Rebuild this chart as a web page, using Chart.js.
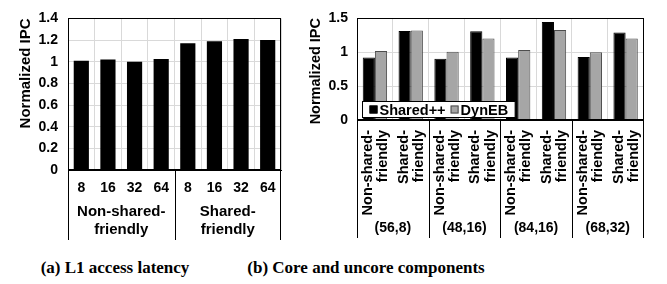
<!DOCTYPE html>
<html>
<head>
<meta charset="utf-8">
<script src="https://cdn.jsdelivr.net/npm/chart.js@4.4.1/dist/chart.umd.min.js"></script>
<style>
  body { margin: 0; background: #fff; width: 667px; height: 284px; position: relative; overflow: hidden; }
  .wrap { position: absolute; top: 0; height: 245px; }
  #wrapA { left: 0; width: 290px; }
  #wrapB { left: 290px; width: 377px; }
  .cap { position: absolute; top: 258px; line-height: 20px; font: bold 17px "Liberation Serif", serif; color: #000; white-space: nowrap; transform: translateX(-50%); }
</style>
</head>
<body>
<div class="wrap" id="wrapA"><canvas id="chartA"></canvas></div>
<div class="wrap" id="wrapB"><canvas id="chartB"></canvas></div>
<div class="cap" style="left:115px">(a) L1 access latency</div>
<div class="cap" style="left:366px">(b) Core and uncore components</div>
<script>
// ---- (a) L1 access latency ----
const latencies = ['8', '16', '32', '64', '8', '16', '32', '64'];
const latencyGroups = [['Non-shared-', 'friendly'], ['Shared-', 'friendly']];
const latencyIPC = [1.01, 1.02, 1.0, 1.025, 1.17, 1.19, 1.21, 1.2];

// ---- (b) Core and uncore components ----
const workloads = [
  ['Non-shared-', 'friendly'], ['Shared-', 'friendly'],
  ['Non-shared-', 'friendly'], ['Shared-', 'friendly'],
  ['Non-shared-', 'friendly'], ['Shared-', 'friendly'],
  ['Non-shared-', 'friendly'], ['Shared-', 'friendly']
];
const configs = [['(56,8)'], ['(48,16)'], ['(84,16)'], ['(68,32)']];
const sharedPP = [0.92, 1.31, 0.9, 1.305, 0.92, 1.44, 0.925, 1.285];
const dynEB = [1.015, 1.315, 1.005, 1.2, 1.03, 1.325, 0.995, 1.2];

const FONT = 'Liberation Sans, Arial, sans-serif';
const GRID = '#d9d9d9';

const fmt = v => String(+(+v).toFixed(2));

/** 画外框、分组标签和分隔线（以及图内图例） */
const groupPlugin = {
  id: 'groups',
  afterDraw(chart, args, opts) {
    const { ctx, chartArea: a } = chart;
    const x = chart.scales.x;
    ctx.save();
    ctx.strokeStyle = '#000';
    ctx.lineWidth = 1;
    ctx.strokeRect(Math.round(a.left) + 0.5, Math.round(a.top) + 0.5,
      Math.round(a.right - a.left) - 1, Math.round(a.bottom - a.top) - 1);

    const n = opts.labels.length;
    const per = chart.data.labels.length / n;
    const half = (x.getPixelForValue(1) - x.getPixelForValue(0)) / 2;
    ctx.beginPath();
    for (let g = 0; g <= n; g++) {
      let px = g < n ? x.getPixelForValue(g * per) - half : x.getPixelForValue(n * per - 1) + half;
      px = Math.round(px) + 0.5;
      if (g === 0) px = Math.round(a.left) + 0.5;
      if (g === n) px = Math.round(a.right) - 0.5;
      ctx.moveTo(px, a.bottom);
      ctx.lineTo(px, opts.bottom);
    }
    ctx.stroke();

    ctx.fillStyle = '#000';
    ctx.font = opts.font;
    ctx.textAlign = 'center';
    ctx.textBaseline = 'middle';
    opts.labels.forEach((lines, g) => {
      const cx = (x.getPixelForValue(g * per) + x.getPixelForValue(g * per + per - 1)) / 2;
      lines.forEach((t, i) => ctx.fillText(t, cx, opts.y + i * opts.lineHeight));
    });

    // 图内图例
    if (opts.legend) {
      const ds = chart.data.datasets;
      ctx.font = opts.legendFont;
      ctx.textAlign = 'left';
      const box = 8, gap = 2, sep = 5;
      let w = 7 + 2;
      ds.forEach((d, i) => { w += box + gap + ctx.measureText(d.label).width + (i < ds.length - 1 ? sep : 0); });
      w += 5;
      const left = Math.round(a.left) + 5.5, top = Math.round(a.bottom) - 18.5, h = 16;
      ctx.fillStyle = '#fff';
      ctx.fillRect(left, top, w, h);
      ctx.strokeStyle = '#000';
      ctx.strokeRect(left, top, w, h);
      let cx = left + 7;
      const cy = top + h / 2;
      ds.forEach(d => {
        ctx.fillStyle = d.backgroundColor;
        ctx.fillRect(cx, cy - box / 2, box, box);
        ctx.strokeStyle = d.borderColor;
        ctx.strokeRect(cx + 0.5, cy - box / 2 + 0.5, box - 1, box - 1);
        cx += box + gap;
        ctx.fillStyle = '#000';
        ctx.fillText(d.label, cx, cy + 1);
        cx += ctx.measureText(d.label).width + sep;
      });
    }
    ctx.restore();
  }
};

function yAxis(max, step, size, pad, titleSize, titlePad, width) {
  return {
    min: 0, max: max,
    ticks: { stepSize: step, color: '#000', padding: pad, font: { family: FONT, size: size, weight: 'bold' }, callback: fmt },
    grid: { color: GRID, drawTicks: false },
    border: { display: true, color: '#000' },
    title: { display: true, text: 'Normalized IPC', align: 'end', color: '#000',
      padding: { top: titlePad, bottom: 0 }, font: { family: FONT, size: titleSize, weight: 'bold' } },
    afterFit: s => { s.width = width; }
  };
}

new Chart(document.getElementById('chartA'), {
  type: 'bar',
  data: {
    labels: latencies,
    datasets: [{ label: 'IPC', data: latencyIPC, backgroundColor: '#000', borderColor: '#000', borderWidth: 0,
      barPercentage: 0.57, categoryPercentage: 1 }]
  },
  options: {
    responsive: true, maintainAspectRatio: false, animation: false,
    layout: { padding: { top: 13, right: 9, left: 0, bottom: 0 } },
    plugins: {
      legend: { display: false }, tooltip: { enabled: false },
      groups: { labels: latencyGroups, font: 'bold 15px ' + FONT, y: 212, lineHeight: 18, bottom: 240 }
    },
    scales: {
      x: {
        ticks: { color: '#000', padding: 10, font: { family: FONT, size: 14, weight: 'bold' } },
        grid: { color: GRID, drawTicks: false },
        border: { display: true, color: '#000' },
        afterFit: s => { s.height = 75; }
      },
      y: yAxis(1.4, 0.2, 14, 10, 15, 17, 68)
    }
  },
  plugins: [groupPlugin]
});

new Chart(document.getElementById('chartB'), {
  type: 'bar',
  data: {
    labels: workloads,
    datasets: [
      { label: 'Shared++', data: sharedPP, backgroundColor: '#000', borderColor: '#000', borderWidth: 1 },
      { label: 'DynEB', data: dynEB, backgroundColor: '#a6a6a6', borderColor: '#4d4d4d', borderWidth: 1 }
    ]
  },
  options: {
    responsive: true, maintainAspectRatio: false, animation: false,
    datasets: { bar: { barPercentage: 1, categoryPercentage: 0.68 } },
    layout: { padding: { top: 18, right: 15, left: 0, bottom: 0 } },
    plugins: {
      legend: { display: false }, tooltip: { enabled: false },
      groups: { labels: configs, font: 'bold 14px ' + FONT, y: 228, lineHeight: 18, bottom: 238,
        legend: true, legendFont: 'bold 14.5px ' + FONT }
    },
    scales: {
      x: {
        ticks: { color: '#000', padding: 10, minRotation: 90, maxRotation: 90, labelOffset: -7, autoSkip: false,
          font: { family: FONT, size: 14.5, weight: 'bold', lineHeight: 1.05 } },
        grid: { color: GRID, drawTicks: false },
        border: { display: true, color: '#000' },
        afterFit: s => { s.height = 125; }
      },
      y: yAxis(1.5, 0.25, 14, 9, 14.5, 17, 67)
    }
  },
  plugins: [groupPlugin]
});
</script>
</body>
</html>
